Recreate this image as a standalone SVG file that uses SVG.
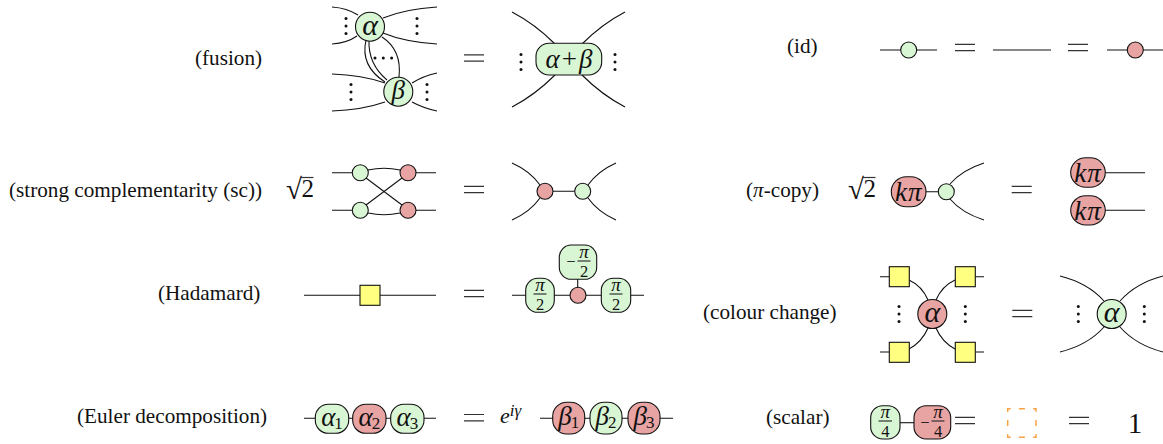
<svg xmlns="http://www.w3.org/2000/svg" width="1163" height="444" viewBox="0 0 1163 444">
<style>
text{font-family:"Liberation Serif","Times New Roman",serif;fill:#111}
.l{font-size:21.2px}
.m{font-style:italic;font-size:30px;text-anchor:middle}
.b{font-style:italic;font-size:27px;text-anchor:middle}
.k{font-style:italic;font-size:27px;text-anchor:middle;letter-spacing:1px}
.n{font-style:italic;font-size:27px;text-anchor:middle}
.s{font-style:normal;font-size:17px}
.f{font-size:16.5px;text-anchor:middle}
.fi{font-size:19px;text-anchor:middle;font-style:italic}
.r{font-size:25px}
.rd{font-size:29px}
.w{fill:none;stroke:#111;stroke-width:1.1}
.g{fill:#d8f6d4;stroke:#111;stroke-width:1.1}
.p{fill:#e8a3a3;stroke:#111;stroke-width:1.1}
.y{fill:#ffff80;stroke:#111;stroke-width:1.1}
.e{fill:none;stroke:#333;stroke-width:1.2}
.d{fill:#111}
</style>
<defs>
<path id="eq" class="e" d="M-10-3.2H10M-10 3.2H10"/>
<g id="vd"><circle cy="-7.5" r="1.5" class="d"/><circle r="1.5" class="d"/><circle cy="7.5" r="1.5" class="d"/></g>
</defs>
<g id="labels">
<text class="l" x="195" y="65">(fusion)</text>
<text class="l" x="9" y="197">(strong complementarity (sc))</text>
<text class="l" x="158" y="300">(Hadamard)</text>
<text class="l" x="77" y="423">(Euler decomposition)</text>
<text class="l" x="787" y="53">(id)</text>
<text class="l" x="746" y="197">(<tspan font-style="italic">π</tspan>-copy)</text>
<text class="l" x="703" y="319">(colour change)</text>
<text class="l" x="766" y="424">(scalar)</text>
</g>
<g id="connectors">
<path class="w" d="M332 7Q347 8 358 15M332 44Q347 43 357 36M437 7Q405 9 383 18M437 44Q405 42 383 33"/>
<path class="w" d="M332 74Q362 75 385 83M332 111Q362 110 385 102M437 73Q423 76 412 83M437 111Q423 108 412 102"/>
<path class="w" d="M366 40Q360 66 385 82M369 40Q368 64 387 80M382 37Q402 50 399 77"/>
<path class="w" d="M512 12Q535 24 555 44M625 12Q602 24 582 44M512 107Q535 95 555 75M625 107Q602 95 582 75"/>
<path class="w" d="M332 172.7H352M416 172.7H436M332 210.3H352M416 210.3H436M368 170Q384 166.5 400 170M368 213Q384 216.5 400 213M366 178L402 205M366 205L402 178"/>
<path class="w" d="M512 163Q530 171 540 185M512 220Q530 212 540 198M616 163Q598 171 588 185M616 220Q598 212 588 198M545 191.3H583"/>
<path class="w" d="M304 295.3H436M512 295.3H644M577.7 279V295"/>
<path class="w" d="M304 418.3H436M540 418.3H673"/>
<path class="w" d="M880 50H937M993 50H1051M1107 50H1163"/>
<path class="w" d="M926 191.7H946M984 163Q962 170 950 184M984 220Q962 213 950 199M1105 172.7H1145M1105 210.3H1145"/>
<path class="w" d="M880 276.7H889M975 276.7H984M880 352H889M975 352H984M909 280Q922 286 928 300M955 280Q942 286 936 300M909 349Q922 342 928 328M955 349Q942 342 936 328"/>
<path class="w" d="M1060 276Q1088 283 1104 301M1163 276Q1136 283 1120 301M1060 352Q1088 345 1104 327M1163 352Q1136 345 1120 327"/>
<path class="w" d="M900 422.7H914"/>
</g>
<g id="fusion-alpha"><circle class="g" cx="370" cy="26.7" r="14.5"/><text class="m" x="370" y="34.5">α</text></g>
<g id="fusion-beta"><circle class="g" cx="398.3" cy="91.7" r="14.5"/><text class="b" x="398.3" y="99">β</text></g>
<g id="fusion-dots">
<use href="#vd" x="346" y="26"/><use href="#vd" x="417" y="26"/><use href="#vd" x="351" y="92"/><use href="#vd" x="427" y="92"/>
<circle class="d" cx="375" cy="58" r="1.5"/><circle class="d" cx="383.3" cy="58" r="1.5"/><circle class="d" cx="391.6" cy="58" r="1.5"/>
<use href="#vd" x="521" y="62"/><use href="#vd" x="615" y="62"/>
</g>
<g id="fusion-sum"><rect class="g" x="536" y="43.3" width="65.7" height="31.7" rx="13"/><text class="n" x="569" y="68">α<tspan font-style="normal" dx="2">+</tspan><tspan dx="2">β</tspan></text></g>
<g id="sc-left">
<circle class="g" cx="360.3" cy="172.7" r="8"/><circle class="p" cx="408" cy="172.7" r="8"/>
<circle class="g" cx="360.3" cy="210.3" r="8"/><circle class="p" cx="408" cy="210.3" r="8"/>
</g>
<g id="sc-right"><circle class="p" cx="545" cy="191.3" r="8"/><circle class="g" cx="582.7" cy="191.3" r="8"/></g>
<g id="sqrt-1"><text class="rd" x="286" y="199">√</text><path class="e" d="M301 177.5H313.5" stroke-width="1"/><text class="r" x="301.5" y="196.5">2</text></g>
<g id="hadamard"><rect class="y" x="360" y="285.3" width="20" height="20"/></g>
<g id="had-1"><rect class="g" x="525.7" y="278.3" width="28.6" height="34" rx="12"/><text class="fi" x="540" y="291">π</text><path class="e" d="M533.5 294H546.5"/><text class="f" x="540" y="310">2</text></g>
<g id="had-2"><rect class="g" x="559.3" y="245" width="37.4" height="34.3" rx="12"/><text class="f" x="571" y="267">−</text><text class="fi" x="584" y="257.5">π</text><path class="e" d="M577.5 261H590.5"/><text class="f" x="584" y="277">2</text></g>
<g id="had-3"><rect class="g" x="601.3" y="278.3" width="29.4" height="34" rx="12"/><text class="fi" x="616" y="291">π</text><path class="e" d="M609.5 294H622.5"/><text class="f" x="616" y="310">2</text></g>
<g id="had-red"><circle class="p" cx="578" cy="295.3" r="8"/></g>
<g id="euler-1"><rect class="g" x="315.3" y="404.3" width="33.4" height="29" rx="13"/><text class="n" x="332" y="426">α<tspan class="s" dy="3" dx="-1">1</tspan></text></g>
<g id="euler-2"><rect class="p" x="352.7" y="404.3" width="33.3" height="29" rx="13"/><text class="n" x="369.4" y="426">α<tspan class="s" dy="3" dx="-1">2</tspan></text></g>
<g id="euler-3"><rect class="g" x="390.7" y="404.3" width="33.3" height="29" rx="13"/><text class="n" x="407.4" y="426">α<tspan class="s" dy="3" dx="-1">3</tspan></text></g>
<g id="euler-4"><rect class="p" x="552.7" y="402.3" width="32" height="31.7" rx="14"/><text class="n" x="568.7" y="425">β<tspan class="s" dy="3" dx="-1">1</tspan></text></g>
<g id="euler-5"><rect class="g" x="590" y="402.3" width="32" height="31.7" rx="14"/><text class="n" x="606" y="425">β<tspan class="s" dy="3" dx="-1">2</tspan></text></g>
<g id="euler-6"><rect class="p" x="628" y="402.3" width="32" height="31.7" rx="14"/><text class="n" x="644" y="425">β<tspan class="s" dy="3" dx="-1">3</tspan></text></g>
<g id="euler-phase"><text x="500" y="423" font-size="22" font-style="italic">e<tspan font-size="17" dy="-7">iγ</tspan></text></g>
<g id="id-green"><circle class="g" cx="908.7" cy="50" r="8"/></g>
<g id="id-red"><circle class="p" cx="1135.3" cy="50" r="8"/></g>
<g id="sqrt-2"><text class="rd" x="848" y="199">√</text><path class="e" d="M863 177.5H875.5" stroke-width="1"/><text class="r" x="863.5" y="196.5">2</text></g>
<g id="copy-k"><rect class="p" x="891.3" y="176.7" width="34.7" height="30" rx="15"/><text class="k" x="908.7" y="200.5">kπ</text></g>
<g id="copy-green"><circle class="g" cx="946.3" cy="191.7" r="8"/></g>
<g id="copy-k1"><rect class="p" x="1070.7" y="157.7" width="34.6" height="29.6" rx="15"/><text class="k" x="1088" y="181.5">kπ</text></g>
<g id="copy-k2"><rect class="p" x="1070.7" y="195.7" width="34.6" height="29.3" rx="15"/><text class="k" x="1088" y="219.5">kπ</text></g>
<g id="cc-squares">
<rect class="y" x="889.3" y="266.7" width="20" height="20"/><rect class="y" x="955.3" y="266.7" width="20" height="20"/>
<rect class="y" x="889.3" y="342.3" width="20" height="20"/><rect class="y" x="955.3" y="342.3" width="20" height="20"/>
</g>
<g id="cc-alpha"><circle class="p" cx="932.3" cy="314" r="14.5"/><text class="m" x="932.3" y="322">α</text></g>
<g id="cc-alpha2"><circle class="g" cx="1111.7" cy="314" r="14.5"/><text class="m" x="1111.7" y="322">α</text></g>
<g id="cc-dots"><use href="#vd" x="899" y="314"/><use href="#vd" x="965.3" y="314"/><use href="#vd" x="1078.3" y="314"/><use href="#vd" x="1144.3" y="314"/></g>
<g id="scalar-1"><rect class="g" x="870.7" y="405.7" width="29.3" height="33.3" rx="12"/><text class="fi" x="885.3" y="418">π</text><path class="e" d="M878.5 421H892"/><text class="f" x="885.3" y="437">4</text></g>
<g id="scalar-2"><rect class="p" x="914" y="405.7" width="36.7" height="33.3" rx="12"/><text class="f" x="925" y="428">−</text><text class="fi" x="938" y="418">π</text><path class="e" d="M931.5 421H944.5"/><text class="f" x="938" y="437">4</text></g>
<g id="scalar-empty"><rect x="1007.7" y="408.7" width="28.3" height="28.6" fill="none" stroke="#f9a245" stroke-width="1.5" stroke-dasharray="6 8.2" stroke-dashoffset="3"/></g>
<g id="equals">
<use href="#eq" x="474" y="58"/><use href="#eq" x="474" y="189.5"/><use href="#eq" x="474" y="293.5"/><use href="#eq" x="474" y="417.7"/>
<use href="#eq" x="965" y="47.5"/><use href="#eq" x="1078" y="47.5"/><use href="#eq" x="1021.7" y="189.5"/><use href="#eq" x="1022.3" y="313.5"/>
<use href="#eq" x="965" y="420.5"/><use href="#eq" x="1079" y="420.5"/>
</g>
<g id="one"><text x="1135" y="433" font-size="29" text-anchor="middle">1</text></g>
</svg>
